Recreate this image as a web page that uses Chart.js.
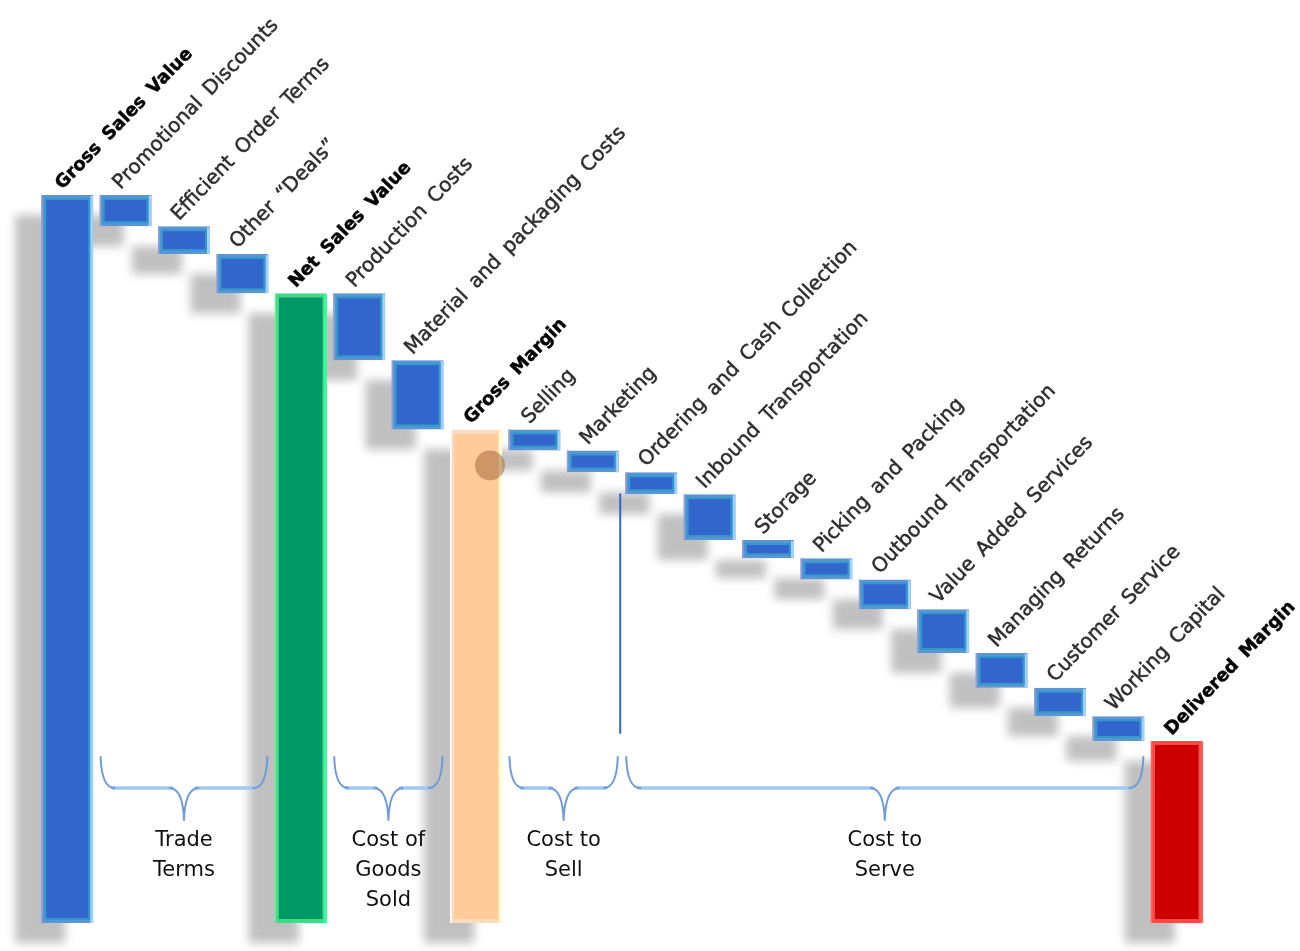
<!DOCTYPE html>
<html>
<head>
<meta charset="utf-8">
<title>Delivered Margin Waterfall</title>
<script src="https://cdn.jsdelivr.net/npm/chart.js@4.4.1/dist/chart.umd.min.js"></script>
<style>
  html, body { margin: 0; padding: 0; background: #ffffff; }
  #wrap { width: 1300px; height: 951px; }
</style>
</head>
<body>
<div id="wrap"><canvas id="c" width="1300" height="951"></canvas></div>
<script>
// ---- data ----
const categories = [
  'Gross Sales Value', 'Promotional Discounts', 'Efficient Order Terms', 'Other \u201CDeals\u201D',
  'Net Sales Value', 'Production Costs', 'Material and packaging Costs', 'Gross Margin',
  'Selling', 'Marketing', 'Ordering and Cash Collection', 'Inbound Transportation',
  'Storage', 'Picking and Packing', 'Outbound Transportation', 'Value Added Services',
  'Managing Returns', 'Customer Service', 'Working Capital', 'Delivered Margin'
];
// 'start' opens the waterfall, 'cost' steps down, 'total' is a running subtotal
const barKinds = [
  'start', 'cost', 'cost', 'cost', 'total', 'cost', 'cost', 'total',
  'cost', 'cost', 'cost', 'cost', 'cost', 'cost', 'cost', 'cost',
  'cost', 'cost', 'cost', 'total'
];
// value of each step (index of gross sales = 100); subtotals are derived
const stepValues = [
  100, 4.3, 3.8, 5.4, null, 9.2, 9.5, null,
  2.9, 3.0, 3.0, 6.3, 2.5, 2.9, 4.1, 6.0,
  4.8, 3.9, 3.4, null
];
const barPalette = [
  'blue', 'blue', 'blue', 'blue', 'green', 'blue', 'blue', 'orange',
  'blue', 'blue', 'blue', 'blue', 'blue', 'blue', 'blue', 'blue',
  'blue', 'blue', 'blue', 'red'
];
// brace groups below the steps
const groupLabels = [['Trade', 'Terms'], ['Cost of', 'Goods', 'Sold'], ['Cost to', 'Sell'], ['Cost to', 'Serve']];
const groupFirst = [1, 5, 8, 10];
const groupLast  = [3, 6, 9, 18];

// ---- build floating ranges ----
const ranges = [];
let level = 0;
stepValues.forEach((v, i) => {
  const kind = barKinds[i];
  if (kind === 'start') { level = v; ranges.push([0, v]); }
  else if (kind === 'total') { ranges.push([0, level]); }
  else { ranges.push([level - v, level]); level -= v; }
});

const styles = {
  blue:   { fill: '#3366cc', border: '#5b96d3', light: '#9fcffc', inner: '#3399cc', edge: '#9a9fd6' },
  green:  { fill: '#009966', border: '#3ddc85', light: '#33ff99', inner: null,      edge: '#66ee99' },
  orange: { fill: '#ffcc99', border: '#f8dcc2', light: '#ffffcc', inner: null,      edge: '#ffffff' },
  red:    { fill: '#cc0000', border: '#ff4848', light: '#ff5555', inner: null,      edge: '#ff6060' }
};

function barBox(el) {
  const p = el.getProps(['x', 'y', 'base', 'width'], true);
  return {
    l: p.x - p.width / 2, r: p.x + p.width / 2,
    t: Math.min(p.y, p.base), b: Math.max(p.y, p.base), cx: p.x
  };
}

// soft drop shadow behind every bar
const shadowPlugin = {
  id: 'barShadows',
  beforeDatasetsDraw(chart) {
    const ctx = chart.ctx;
    const meta = chart.getDatasetMeta(0);
    ctx.save();
    ctx.filter = 'blur(5px)';
    ctx.fillStyle = '#c0c0c0';
    meta.data.forEach(el => {
      const b = barBox(el);
      ctx.fillRect(b.l - 26, b.t + 20, b.r - b.l - 2, b.b - b.t);
    });
    ctx.restore();
  }
};

// bevelled edges on top of the plain bars
const bevelPlugin = {
  id: 'bevel',
  afterDatasetsDraw(chart) {
    const ctx = chart.ctx;
    const meta = chart.getDatasetMeta(0);
    ctx.save();
    meta.data.forEach((el, i) => {
      const s = styles[barPalette[i]];
      const b = barBox(el);
      ctx.fillStyle = s.light;
      ctx.fillRect(b.r - 3, b.t + 1, 3, b.b - b.t - 1);
      ctx.fillStyle = s.edge;
      ctx.fillRect(b.l, b.t, 1.5, b.b - b.t);
      if (s.inner) {
        ctx.strokeStyle = s.inner;
        ctx.lineWidth = 2;
        ctx.strokeRect(b.l + 4, b.t + 4, b.r - b.l - 8, b.b - b.t - 8);
      }
    });
    // translucent marker on the gross margin bar
    const gm = barBox(meta.data[7]);
    ctx.beginPath();
    ctx.rect(gm.l, gm.t, gm.r - gm.l + 3, gm.b - gm.t);
    ctx.clip();
    ctx.beginPath();
    ctx.arc(gm.r - 12, gm.t + 36, 15, 0, Math.PI * 2);
    ctx.fillStyle = 'rgba(165, 105, 60, 0.55)';
    ctx.fill();
    ctx.restore();
  }
};

// rotated category names above each bar
const topLabelPlugin = {
  id: 'topLabels',
  afterDraw(chart) {
    const ctx = chart.ctx;
    const meta = chart.getDatasetMeta(0);
    meta.data.forEach((el, i) => {
      const b = barBox(el);
      const bold = barKinds[i] !== 'cost';
      ctx.save();
      ctx.translate(b.cx - 5, b.t - 5);
      ctx.rotate(-46 * Math.PI / 180);
      ctx.font = bold ? 'bold 18px "DejaVu Sans"' : '20px "DejaVu Sans"';
      ctx.wordSpacing = '4px';
      const col = bold ? '#000000' : '#2e2e2e';
      ctx.fillStyle = col;
      ctx.strokeStyle = col;
      ctx.lineWidth = 0.5;
      ctx.textAlign = 'left';
      ctx.textBaseline = 'alphabetic';
      ctx.fillText(categories[i], 0, 0);
      ctx.strokeText(categories[i], 0, 0);
      ctx.restore();
    });
  }
};

// curly braces with group names under the cost steps
const bracePlugin = {
  id: 'braces',
  afterDraw(chart) {
    const ctx = chart.ctx;
    const meta = chart.getDatasetMeta(0);
    const area = chart.chartArea;
    const top = area.bottom - 166, mid = area.bottom - 135, tip = area.bottom - 103;
    ctx.save();
    groupLabels.forEach((lines, g) => {
      const x1 = barBox(meta.data[groupFirst[g]]).l + 1;
      const x2 = barBox(meta.data[groupLast[g]]).r - 1;
      const xm = (x1 + x2) / 2;
      ctx.lineCap = 'round';
      ctx.strokeStyle = '#a4c7f0';
      ctx.lineWidth = 3.5;
      ctx.beginPath();
      ctx.moveTo(x1 + 12, mid);
      ctx.lineTo(xm - 12, mid);
      ctx.moveTo(xm + 12, mid);
      ctx.lineTo(x2 - 12, mid);
      ctx.stroke();
      ctx.strokeStyle = '#6f9bd8';
      ctx.lineWidth = 2;
      ctx.beginPath();
      ctx.moveTo(x1, top);
      ctx.quadraticCurveTo(x1 + 1, mid, x1 + 14, mid);
      ctx.moveTo(x2, top);
      ctx.quadraticCurveTo(x2 - 1, mid, x2 - 14, mid);
      ctx.moveTo(xm - 14, mid);
      ctx.quadraticCurveTo(xm - 1, mid + 1, xm, tip);
      ctx.moveTo(xm + 14, mid);
      ctx.quadraticCurveTo(xm + 1, mid + 1, xm, tip);
      ctx.stroke();
      ctx.fillStyle = '#111111';
      ctx.font = '21px "DejaVu Sans"';
      ctx.textAlign = 'center';
      ctx.textBaseline = 'alphabetic';
      lines.forEach((t, k) => ctx.fillText(t, xm, area.bottom - 77 + k * 30));
    });
    // divider between selling costs and serving costs
    const ord = barBox(meta.data[10]);
    ctx.strokeStyle = '#3366cc';
    ctx.lineWidth = 2;
    ctx.beginPath();
    ctx.moveTo(ord.l - 5, ord.b);
    ctx.lineTo(ord.l - 5, top - 24);
    ctx.stroke();
    ctx.restore();
  }
};

new Chart(document.getElementById('c'), {
  type: 'bar',
  data: {
    labels: categories,
    datasets: [{
      data: ranges,
      backgroundColor: barPalette.map(p => styles[p].fill),
      borderColor: barPalette.map(p => styles[p].border),
      borderWidth: 4,
      borderSkipped: false,
      barPercentage: 0.89,
      categoryPercentage: 1.0
    }]
  },
  options: {
    responsive: false,
    animation: false,
    devicePixelRatio: 1,
    layout: { padding: { left: 38, right: 94, top: 195, bottom: 28 } },
    plugins: { legend: { display: false }, tooltip: { enabled: false } },
    scales: {
      x: { display: false, offset: true, grid: { display: false } },
      y: { display: false, min: 0, max: 100, grid: { display: false } }
    }
  },
  plugins: [shadowPlugin, bevelPlugin, topLabelPlugin, bracePlugin]
});
</script>
</body>
</html>
